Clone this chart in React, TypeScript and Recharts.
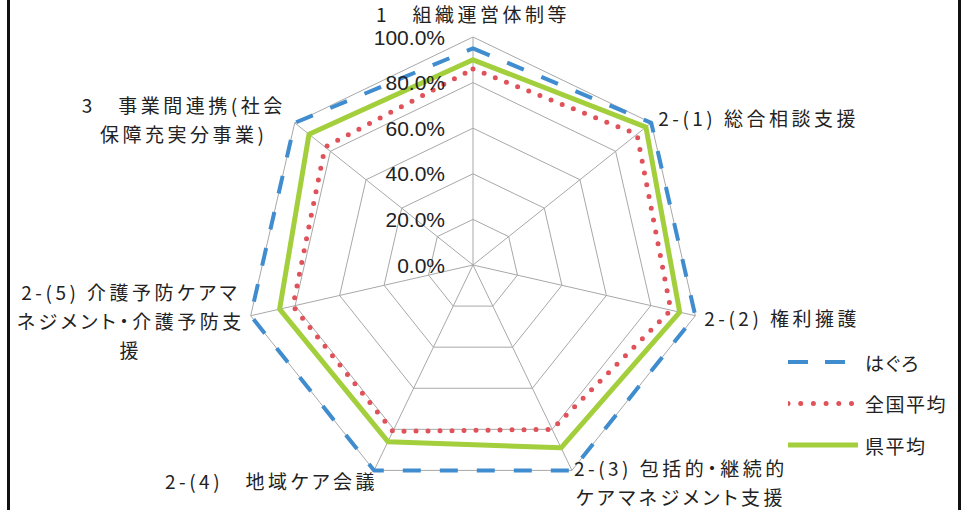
import {
  Legend,
  PolarAngleAxis,
  PolarGrid,
  PolarRadiusAxis,
  Radar,
  RadarChart,
} from "recharts";

// 評価項目（改行は表示上の折り返し）
const CATEGORIES = [
  "1　組織運営体制等",
  "2-(1) 総合相談支援",
  "2-(2) 権利擁護",
  "2-(3) 包括的・継続的\nケアマネジメント支援",
  "2-(4)　地域ケア会議",
  "2-(5) 介護予防ケアマ\nネジメント・介護予防支\n援",
  "3　事業間連携(社会\n保障充実分事業)",
];

// 達成率 (%)
const HAGURO = [95, 100, 100, 100, 100, 100, 100];
const NATIONAL_AVG = [86, 92, 89, 80, 81, 81, 83];
const PREF_AVG = [90, 97, 93, 89, 86, 87, 92];

const RADIUS_TICKS = [0, 20, 40, 60, 80, 100];

const SERIES = [
  { key: "haguro", name: "はぐろ", color: "#3f8ccf", width: 4, dash: "18 19", legendDash: "20 17", cap: "butt" as const },
  { key: "national", name: "全国平均", color: "#e0525a", width: 5, dash: "0 12", legendDash: "0 12.7", cap: "round" as const },
  { key: "pref", name: "県平均", color: "#a3cf3c", width: 5, dash: undefined, legendDash: undefined, cap: "butt" as const },
];

const data = CATEGORIES.map((label, i) => ({
  label,
  haguro: HAGURO[i],
  national: NATIONAL_AVG[i],
  pref: PREF_AVG[i],
}));

const JP_FONT = '"Noto Sans CJK JP", "Noto Sans", sans-serif';
const TEXT = "#222";
const JP_STYLE = { fontFeatureSettings: '"palt"' };

// 各ラベルの配置（外周頂点からのずれ）
const LABEL_LAYOUT = [
  { anchor: "middle", dx: 0, dy: -24 },
  { anchor: "start", dx: 7, dy: -5 },
  { anchor: "start", dx: 9, dy: 2 },
  { anchor: "middle", dx: 109, dy: -3 },
  { anchor: "end", dx: 4, dy: 10 },
  { anchor: "middle", dx: -120, dy: -24 },
  { anchor: "middle", dx: -111, dy: -18 },
] as const;

function AngleTick(props: any) {
  const { x, y, cx, cy, radius, payload, index } = props;
  const dist = Math.hypot(x - cx, y - cy) || 1;
  const vx = cx + ((x - cx) * radius) / dist;
  const vy = cy + ((y - cy) * radius) / dist;
  const layout = LABEL_LAYOUT[index] ?? { anchor: "middle", dx: 0, dy: 0 };
  const lines = String(payload.value).split("\n");
  return (
    <text
      x={vx + layout.dx}
      y={vy + layout.dy}
      textAnchor={layout.anchor}
      fill={TEXT}
      fontSize={19}
      fontFamily={JP_FONT}
      letterSpacing={3.5}
      style={JP_STYLE}
    >
      {lines.map((line, i) => (
        <tspan key={i} x={vx + layout.dx} dy={i === 0 ? 0 : 29} dominantBaseline="central">
          {line}
        </tspan>
      ))}
    </text>
  );
}

function RadiusTick(props: any) {
  const { x, y, payload } = props;
  return (
    <text
      x={x - 28}
      y={y}
      textAnchor="end"
      dominantBaseline="central"
      fill={TEXT}
      fontSize={21}
      fontFamily='"Liberation Sans", Arial, sans-serif'
    >
      {`${Number(payload.value).toFixed(1)}%`}
    </text>
  );
}

function LegendBox() {
  return (
    <svg width={170} height={110}>
      {SERIES.map((s, i) => {
        const y = 12 + i * 41.5;
        const x2 = s.key === "haguro" ? 57 : s.key === "national" ? 63.5 : 70;
        return (
          <g key={s.key}>
            <line
              x1={0}
              y1={y}
              x2={x2}
              y2={y}
              stroke={s.color}
              strokeWidth={s.width}
              strokeDasharray={s.legendDash}
              strokeLinecap={s.cap}
            />
            <text
              x={77}
              y={y}
              dominantBaseline="central"
              fill={TEXT}
              fontSize={19}
              fontFamily={JP_FONT}
              letterSpacing={1.5}
              style={JP_STYLE}
            >
              {s.name}
            </text>
          </g>
        );
      })}
    </svg>
  );
}

export default function App() {
  return (
    <div
      style={{
        position: "absolute",
        left: 0,
        top: 0,
        width: 971,
        height: 510,
        background: "#fff",
        overflow: "hidden",
      }}
    >
      <div style={{ position: "absolute", left: 7, top: 0, width: 3, height: 510, background: "#111" }} />
      <div style={{ position: "absolute", left: 958, top: 0, width: 3, height: 510, background: "#111" }} />
      <RadarChart
        width={971}
        height={510}
        data={data}
        cx={473}
        cy={265}
        outerRadius={228}
        startAngle={90}
        endAngle={-270}
        margin={{ top: 0, right: 0, bottom: 0, left: 0 }}
      >
        <PolarGrid gridType="polygon" stroke="#a8a8a8" strokeWidth={1} />
        <PolarAngleAxis dataKey="label" tick={<AngleTick />} tickLine={false} axisLine={false} />
        <PolarRadiusAxis
          angle={90}
          domain={[0, 100]}
          ticks={RADIUS_TICKS}
          tick={<RadiusTick />}
          axisLine={false}
          tickLine={false}
        />
        {SERIES.slice()
          .reverse()
          .map((s) => (
            <Radar
              key={s.key}
              name={s.name}
              dataKey={s.key}
              stroke={s.color}
              strokeWidth={s.width}
              strokeDasharray={s.dash}
              strokeLinecap={s.cap}
              strokeLinejoin="round"
              fill="none"
              fillOpacity={0}
              dot={false}
              isAnimationActive={false}
            />
          ))}
        <Legend
          content={() => <LegendBox />}
          wrapperStyle={{ position: "absolute", left: 788, top: 350, width: 170 }}
        />
      </RadarChart>
    </div>
  );
}
